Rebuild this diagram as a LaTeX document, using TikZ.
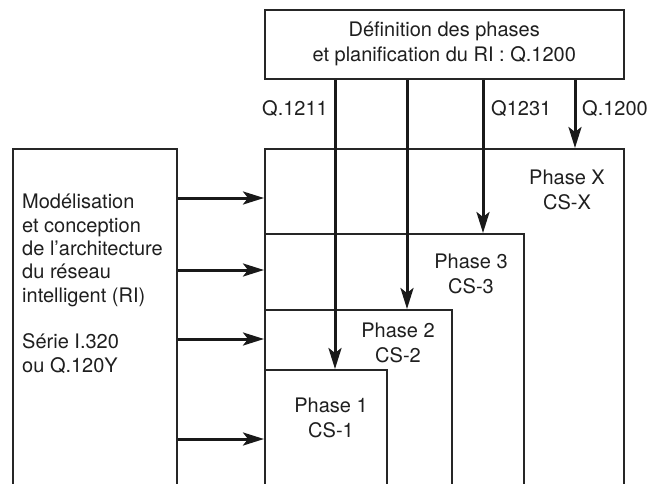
\documentclass[tikz,border=0pt]{standalone}
\usepackage{fontspec}
\setmainfont{TeX Gyre Heros}
\usetikzlibrary{arrows.meta}

\begin{document}
\begin{tikzpicture}[x=1pt,y=-1pt,>={Stealth[length=21pt,width=13pt,inset=5pt]},
  box/.style={draw=black!85,line width=1.5pt,fill=white,inner sep=0pt,anchor=north west},
  txt/.style={font=\fontsize{20}{25}\selectfont,text=black!88,inner sep=0pt,align=center},
  arr/.style={->,line width=3pt,draw=black!90}]
\clip (0,0) rectangle (652,483);
% boxes, back to front
\node[box,minimum width=164pt,minimum height=400pt] (model) at (12,148) {};
\node[box,txt,minimum width=359pt,minimum height=69pt] (def) at (264,9) {D\'efinition des phases\\et planification du RI : Q.1200};
\node[box,minimum width=359pt,minimum height=400pt] (phx) at (264,148) {};
\node[box,minimum width=259pt,minimum height=300pt] (ph3) at (264,233) {};
\node[box,minimum width=187pt,minimum height=300pt] (ph2) at (264,309) {};
\node[box,minimum width=122pt,minimum height=300pt] (ph1) at (264,369) {};
% texts (base = last line)
\node[txt,align=left,font=\fontsize{20}{23.3}\selectfont,anchor=base west] (modeltxt) at (22,372) {Mod\'elisation\\et conception\\de l’architecture\\du r\'eseau\\intelligent (RI)\\[23.3pt]S\'erie I.320\\ou Q.120Y};
\node[txt,anchor=base] (phxtxt) at (567,209) {Phase X\\CS-X};
\node[txt,anchor=base] (ph3txt) at (471,293) {Phase 3\\CS-3};
\node[txt,anchor=base] (ph2txt) at (398,362) {Phase 2\\CS-2};
\node[txt,anchor=base] (ph1txt) at (331,437) {Phase 1\\CS-1};
% arrows
\foreach \y in {198,270,339,439}
  \draw[arr] (model.east |- 0,\y) -- (phx.west |- 0,\y);
\draw[arr] (def.south -| 335,0) -- (ph1.north -| 335,0);
\draw[arr] (def.south -| 407,0) -- (ph2.north -| 407,0);
\draw[arr] (def.south -| 483,0) -- (ph3.north -| 483,0);
\draw[arr] (def.south -| 575,0) -- (phx.north -| 575,0);
\node[txt,anchor=base east] (q1211) at (328,115) {Q.1211};
\node[txt,anchor=base west] (q1231) at (491,115) {Q1231};
\node[txt,anchor=base west] (q1200) at (582,115) {Q.1200};
\end{tikzpicture}
\end{document}
